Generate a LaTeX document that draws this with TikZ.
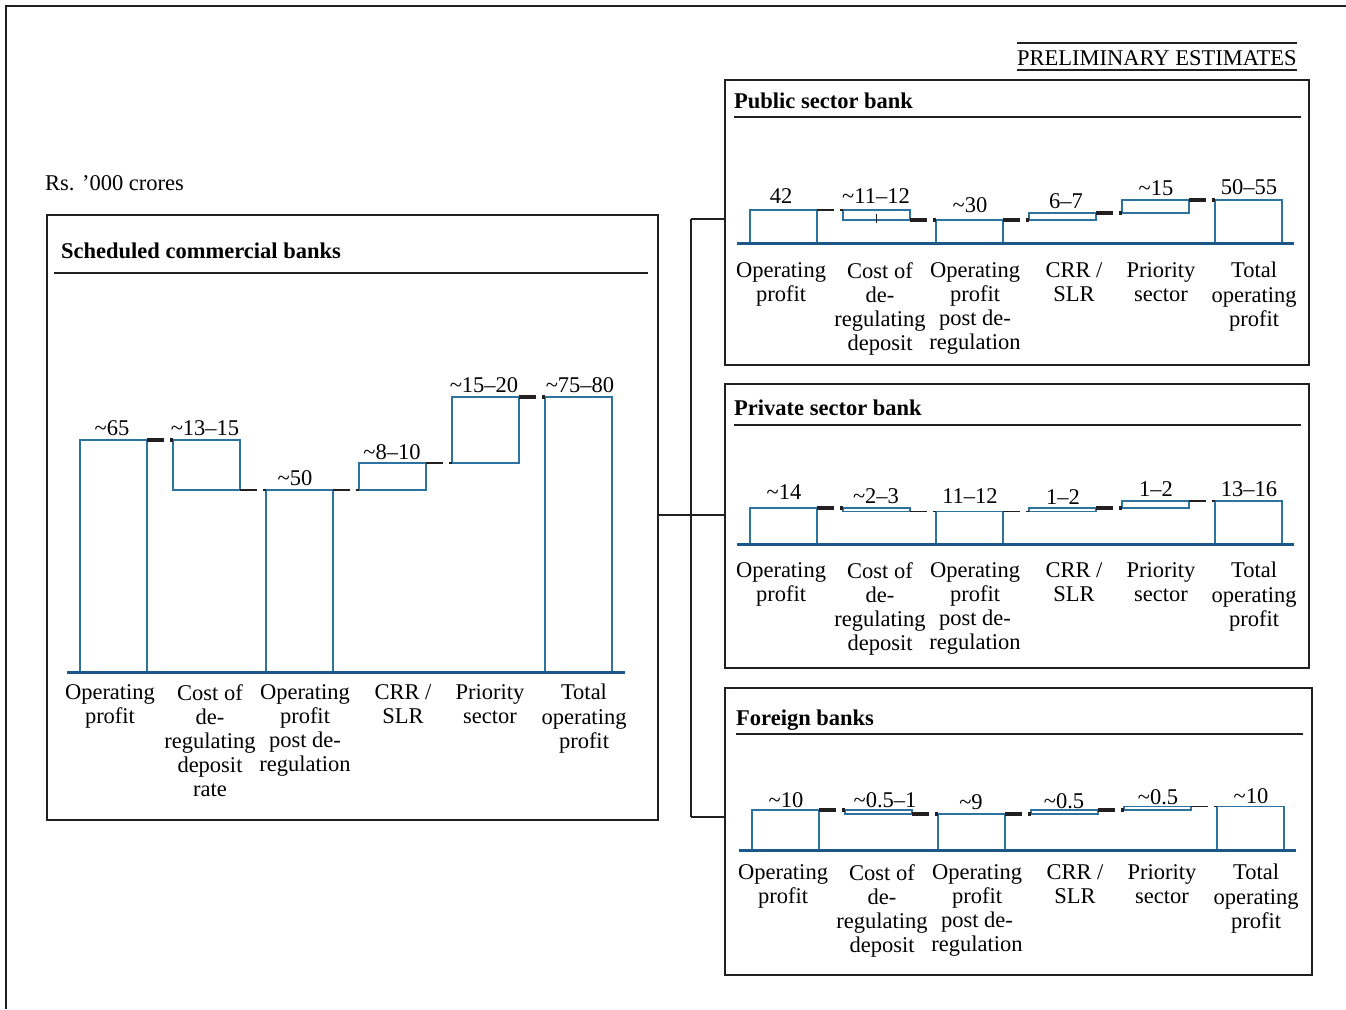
\documentclass[tikz,border=0pt]{standalone}
\usepackage{fontspec}
\setmainfont{Liberation Serif}
\usetikzlibrary{calc}
\definecolor{barblue}{RGB}{45,115,160}
\definecolor{axisblue}{RGB}{28,88,135}
\definecolor{inkk}{RGB}{35,31,32}
\newcommand\fsz{\fontsize{22.5}{24.2}\selectfont}
\newcommand\tl{\textasciitilde}
\tikzset{
  frame/.style={draw=inkk,line width=1.3pt,inner sep=0pt,outer sep=0pt},
  lk/.style={draw=inkk,line width=1.2pt},
  rule/.style={draw=inkk,line width=1.3pt},
  wbar/.style={draw=barblue,line width=1.1pt,minimum width=67pt,inner sep=0pt,outer sep=0pt,rectangle},
  axis/.style={draw=axisblue,line width=3pt},
  thk/.style={draw=inkk,line width=4.5pt,dash pattern=on 17pt off 6pt on 40pt,yshift=2pt},
  thn/.style={draw=inkk,line width=1.2pt,dash pattern=on 17pt off 6pt on 40pt},
  val/.style={font=\fsz,anchor=base,inner sep=0pt},
  cat/.style={font=\fsz,align=center,anchor=north,inner sep=0pt},
  ttl/.style={font=\fsz\bfseries,anchor=base west,inner sep=0pt},
  txt/.style={font=\fsz,anchor=base west,inner sep=0pt}
}
\begin{document}
\begin{tikzpicture}[x=1pt,y=-1pt]
\useasboundingbox (0,0) rectangle (1346,1009);
% outer frame
\draw[lk] (6,1009) -- (6,6) -- (1346,6);
% header
\node[txt] (pe) at (1017,65) {PRELIMINARY ESTIMATES};
\draw[rule] ([yshift=22pt]pe.base west) -- ([yshift=22pt]pe.base east);
\draw[rule] ([yshift=-5pt]pe.base west) -- ([yshift=-5pt]pe.base east);
\node[txt] (unit) at (45,190) {Rs. ’000 crores};

% ---------- boxes ----------
\node[frame,minimum width=611pt,minimum height=605pt,anchor=north west] (scb) at (47,215) {};
\node[frame,minimum width=584pt,minimum height=285pt,anchor=north west] (pub) at (725,80) {};
\node[frame,minimum width=584pt,minimum height=284pt,anchor=north west] (pvt) at (725,384) {};
\node[frame,minimum width=587pt,minimum height=287pt,anchor=north west] (frn) at (725,688) {};

% bracket
\coordinate (jt) at (691,219);
\coordinate (jm) at (691,515);
\coordinate (jb) at (691,817);
\draw[lk] (scb.east |- jm) -- (jm);
\draw[lk] (jt) -- (jb);
\draw[lk] (jt) -- (jt -| pub.west);
\draw[lk] (jm) -- (jm -| pvt.west);
\draw[lk] (jb) -- (jb -| frn.west);

% titles
\node[ttl] (tscb) at (61,258) {Scheduled commercial banks};
\draw[rule] (54,273) -- (648,273);
\node[ttl] (tpub) at (734,108) {Public sector bank};
\draw[rule] (734,117) -- (1301,117);
\node[ttl] (tpvt) at (734,415) {Private sector bank};
\draw[rule] (734,425) -- (1301,425);
\node[ttl] (tfrn) at (736,725) {Foreign banks};
\draw[rule] (736,734) -- (1303,734);

% ---------- main chart ----------
\node[wbar,minimum height=232pt,anchor=south west] (m1) at (80,672) {};
\node[wbar,minimum height=50pt,anchor=north west] (m2) at (173,440) {};
\node[wbar,minimum height=182pt,anchor=south west] (m3) at (266,672) {};
\node[wbar,minimum height=27pt,anchor=north west] (m4) at (359,463) {};
\node[wbar,minimum height=66pt,anchor=north west] (m5) at (452,397) {};
\node[wbar,minimum height=275pt,anchor=south west] (m6) at (545,672) {};
\draw[axis] (67,672) -- (625,672);
\draw[thk] (m1.north east) -- (m2.north west);
\draw[thn] (m2.south east) -- (m3.north west);
\draw[thn] (m3.north east) -- (m4.south west);
\draw[thn] (m4.north east) -- (m5.south west);
\draw[thk] (m5.north east) -- (m6.north west);
\node[val] (mv1) at (112,435) {\tl65};
\node[val] (mv2) at (205,435) {\tl13--15};
\node[val] (mv3) at (295,485) {\tl50};
\node[val] (mv4) at (392,459) {\tl8--10};
\node[val] (mv5) at (484,392) {\tl15--20};
\node[val] (mv6) at (580,392) {\tl75--80};
\foreach \cx/\tx [count=\i] in {110/{Operating\\profit},210/{Cost of\\de-\\regulating\\deposit\\rate},305/{Operating\\profit\\post de-\\regulation},403/{CRR /\\SLR},490/{Priority\\sector},584/{Total\\operating\\profit}}
  \node[cat] (mc\i) at (\cx,684) {\tx};

% ---------- public sector ----------
\node[wbar,minimum height=33pt,anchor=south west] (p1) at (750,243) {};
\node[wbar,minimum height=10pt,anchor=north west] (p2) at (843,210) {};
\node[wbar,minimum height=23pt,anchor=south west] (p3) at (936,243) {};
\node[wbar,minimum height=7pt,anchor=north west] (p4) at (1029,213) {};
\node[wbar,minimum height=13pt,anchor=north west] (p5) at (1122,200) {};
\node[wbar,minimum height=43pt,anchor=south west] (p6) at (1215,243) {};
\draw[lk,line width=1pt] (876,214) -- (876,223);
\draw[axis] (737,243) -- (1294,243);
\draw[thn] (p1.north east) -- (p2.north west);
\draw[thk] (p2.south east) -- (p3.north west);
\draw[thk] (p3.north east) -- (p4.south west);
\draw[thk] (p4.north east) -- (p5.south west);
\draw[thk] (p5.north east) -- (p6.north west);
\node[val] (pv1) at (781,203) {42};
\node[val] (pv2) at (876,203) {\tl11--12};
\node[val] (pv3) at (970,212) {\tl30};
\node[val] (pv4) at (1066,208) {6--7};
\node[val] (pv5) at (1156,195) {\tl15};
\node[val] (pv6) at (1249,194) {50--55};
\foreach \cx/\tx [count=\i] in {781/{Operating\\profit},880/{Cost of\\de-\\regulating\\deposit},975/{Operating\\profit\\post de-\\regulation},1074/{CRR /\\SLR},1161/{Priority\\sector},1254/{Total\\operating\\profit}}
  \node[cat] (pc\i) at (\cx,262) {\tx};

% ---------- private sector ----------
\node[wbar,minimum height=36pt,anchor=south west] (q1) at (750,544) {};
\node[wbar,minimum height=3.5pt,anchor=north west] (q2) at (843,508) {};
\node[wbar,minimum height=32.5pt,anchor=south west] (q3) at (936,544) {};
\node[wbar,minimum height=3.5pt,anchor=north west] (q4) at (1029,508) {};
\node[wbar,minimum height=7pt,anchor=north west] (q5) at (1122,501) {};
\node[wbar,minimum height=43pt,anchor=south west] (q6) at (1215,544) {};
\draw[axis] (737,544) -- (1294,544);
\draw[thk] (q1.north east) -- (q2.north west);
\draw[thn] (q2.south east) -- (q3.north west);
\draw[thn] (q3.north east) -- (q4.south west);
\draw[thk] (q4.north east) -- (q5.south west);
\draw[thn] (q5.north east) -- (q6.north west);
\node[val] (qv1) at (784,499) {\tl14};
\node[val] (qv2) at (876,503) {\tl2--3};
\node[val] (qv3) at (970,503) {11--12};
\node[val] (qv4) at (1063,504) {1--2};
\node[val] (qv5) at (1156,496) {1--2};
\node[val] (qv6) at (1249,496) {13--16};
\foreach \cx/\tx [count=\i] in {781/{Operating\\profit},880/{Cost of\\de-\\regulating\\deposit},975/{Operating\\profit\\post de-\\regulation},1074/{CRR /\\SLR},1161/{Priority\\sector},1254/{Total\\operating\\profit}}
  \node[cat] (qc\i) at (\cx,562) {\tx};

% ---------- foreign banks ----------
\node[wbar,minimum height=40pt,anchor=south west] (f1) at (752,850) {};
\node[wbar,minimum height=4pt,anchor=north west] (f2) at (845,810) {};
\node[wbar,minimum height=36pt,anchor=south west] (f3) at (938,850) {};
\node[wbar,minimum height=4pt,anchor=north west] (f4) at (1031,810) {};
\node[wbar,minimum height=3.5pt,anchor=north west] (f5) at (1124,806.5) {};
\node[wbar,minimum height=43.5pt,anchor=south west] (f6) at (1217,850) {};
\draw[axis] (739,850) -- (1296,850);
\draw[thk] (f1.north east) -- (f2.north west);
\draw[thk] (f2.south east) -- (f3.north west);
\draw[thk] (f3.north east) -- (f4.south west);
\draw[thk] (f4.north east) -- (f5.south west);
\draw[thn] (f5.north east) -- (f6.north west);
\node[val] (fv1) at (786,807) {\tl10};
\node[val] (fv2) at (885,807) {\tl0.5--1};
\node[val] (fv3) at (971,809) {\tl9};
\node[val] (fv4) at (1064,808) {\tl0.5};
\node[val] (fv5) at (1158,804) {\tl0.5};
\node[val] (fv6) at (1251,803) {\tl10};
\foreach \cx/\tx [count=\i] in {783/{Operating\\profit},882/{Cost of\\de-\\regulating\\deposit},977/{Operating\\profit\\post de-\\regulation},1075/{CRR /\\SLR},1162/{Priority\\sector},1256/{Total\\operating\\profit}}
  \node[cat] (fc\i) at (\cx,864) {\tx};
\end{tikzpicture}
\end{document}
